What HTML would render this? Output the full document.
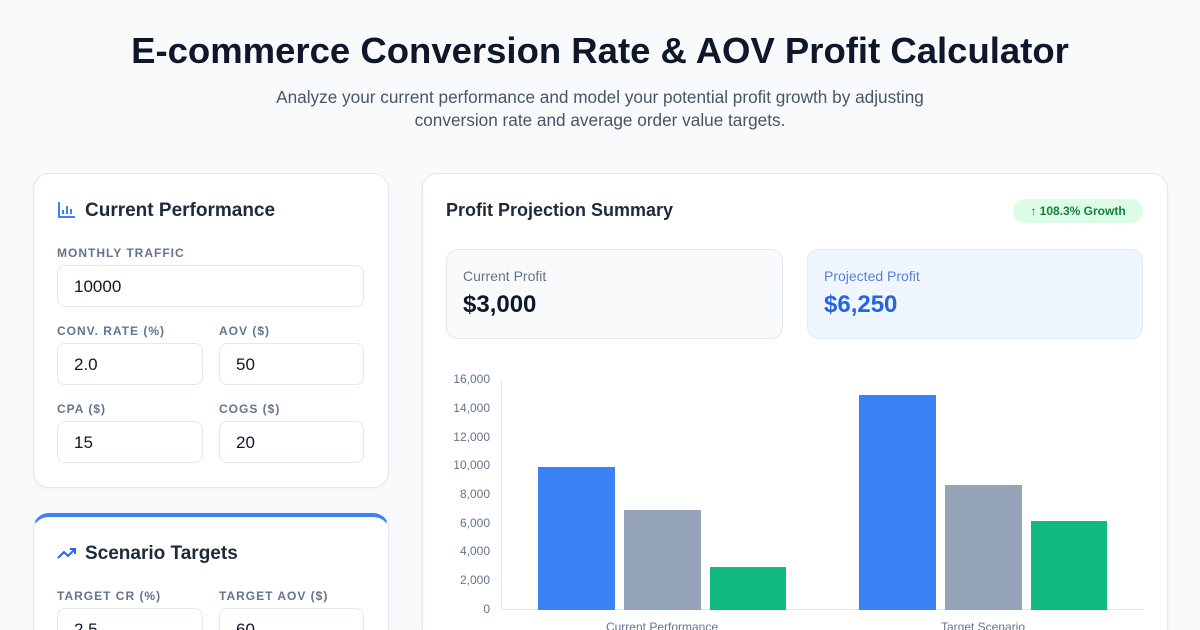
<!DOCTYPE html>
<html style="width:1200px;height:630px;overflow:hidden"><head><style>
*{box-sizing:border-box;margin:0;padding:0}
body{width:1200px;height:630px;overflow:hidden;background:#f8fafc;font-family:"Liberation Sans",sans-serif;position:relative;color:#0f172a}
.a{position:absolute}
.card{position:absolute;background:#fff;border:1px solid #e2e8f0;border-radius:16px;box-shadow:0 1px 3px rgba(0,0,0,.04)}
.lbl{position:absolute;font-size:12px;font-weight:bold;letter-spacing:1px;color:#64748b}
.inp{position:absolute;height:42px;border:1px solid #e2e8f0;border-radius:8px;background:#fff;font-size:17px;padding:11px 16px;color:#0f172a}
.yl{position:absolute;left:440px;width:50px;text-align:right;font-size:12px;color:#64748b}
</style></head><body>
<div class="a" style="left:0;width:1200px;top:30px;text-align:center;font-size:36.5px;font-weight:bold;color:#0f172a">E-commerce Conversion Rate &amp; AOV Profit Calculator</div>
<div class="a" style="left:0;width:1200px;top:86px;text-align:center;font-size:17.2px;line-height:23px;color:#475569">Analyze your current performance and model your potential profit growth by adjusting<br>conversion rate and average order value targets.</div>

<div class="card" style="left:33px;top:173px;width:356px;height:315px"></div>
<svg class="a" style="left:57px;top:201px" width="20" height="18" viewBox="0 0 20 18"><path d="M2 1v15h16M6 13V9M10 13V5M14 13V8" stroke="#3b82f6" stroke-width="2" fill="none"/></svg>
<div class="a" style="left:85px;top:200px;font-size:19px;font-weight:bold;color:#1e293b">Current Performance</div>
<div class="lbl" style="left:57px;top:246px">MONTHLY TRAFFIC</div>
<div class="inp" style="left:57px;top:265px;width:307px">10000</div>
<div class="lbl" style="left:57px;top:324px">CONV. RATE (%)</div>
<div class="lbl" style="left:219px;top:324px">AOV ($)</div>
<div class="inp" style="left:57px;top:343px;width:146px">2.0</div>
<div class="inp" style="left:219px;top:343px;width:145px">50</div>
<div class="lbl" style="left:57px;top:402px">CPA ($)</div>
<div class="lbl" style="left:219px;top:402px">COGS ($)</div>
<div class="inp" style="left:57px;top:421px;width:146px">15</div>
<div class="inp" style="left:219px;top:421px;width:145px">20</div>

<div class="card" style="left:33px;top:513px;width:356px;height:130px;border-top:4px solid #3b82f6"></div>
<svg class="a" style="left:57px;top:546px" width="20" height="14" viewBox="0 0 20 14"><path d="M1 12l6-6 4 4 7-7M13 3h5v5" stroke="#2563eb" stroke-width="2" fill="none"/></svg>
<div class="a" style="left:85px;top:543px;font-size:19px;font-weight:bold;color:#1e293b">Scenario Targets</div>
<div class="lbl" style="left:57px;top:589px">TARGET CR (%)</div>
<div class="lbl" style="left:219px;top:589px">TARGET AOV ($)</div>
<div class="inp" style="left:57px;top:608px;width:146px;height:30px">2.5</div>
<div class="inp" style="left:219px;top:608px;width:145px;height:30px">60</div>

<div class="card" style="left:422px;top:173px;width:746px;height:470px"></div>
<div class="a" style="left:446px;top:200px;font-size:18px;font-weight:bold;color:#1e293b">Profit Projection Summary</div>
<div class="a" style="left:1013px;top:199px;width:130px;height:24px;border-radius:12px;background:#dcfce7;color:#15803d;font-size:12px;font-weight:bold;text-align:center;line-height:24px">↑ 108.3% Growth</div>
<div class="a" style="left:446px;top:249px;width:337px;height:90px;border:1px solid #e2e8f0;border-radius:12px;background:#f8fafc"></div>
<div class="a" style="left:463px;top:268px;font-size:14px;color:#64748b">Current Profit</div>
<div class="a" style="left:463px;top:291px;font-size:24px;font-weight:bold;color:#0f172a">$3,000</div>
<div class="a" style="left:807px;top:249px;width:336px;height:90px;border:1px solid #dbeafe;border-radius:12px;background:#eff6ff"></div>
<div class="a" style="left:824px;top:268px;font-size:14px;color:#5b7fd6">Projected Profit</div>
<div class="a" style="left:824px;top:291px;font-size:24px;font-weight:bold;color:#2563eb">$6,250</div>

<div class="yl" style="top:372px">16,000</div>
<div class="yl" style="top:401px">14,000</div>
<div class="yl" style="top:430px">12,000</div>
<div class="yl" style="top:458px">10,000</div>
<div class="yl" style="top:487px">8,000</div>
<div class="yl" style="top:516px">6,000</div>
<div class="yl" style="top:544px">4,000</div>
<div class="yl" style="top:573px">2,000</div>
<div class="yl" style="top:602px">0</div>
<div class="a" style="left:501px;top:380px;width:1px;height:230px;background:#e5e7eb"></div>
<div class="a" style="left:501px;top:609px;width:642px;height:1px;background:#e5e7eb"></div>
<div class="a" style="left:538px;top:467px;width:77px;height:143px;background:#3b82f6"></div>
<div class="a" style="left:624px;top:510px;width:77px;height:100px;background:#94a3b8"></div>
<div class="a" style="left:710px;top:567px;width:76px;height:43px;background:#10b981"></div>
<div class="a" style="left:859px;top:395px;width:77px;height:215px;background:#3b82f6"></div>
<div class="a" style="left:945px;top:485px;width:77px;height:125px;background:#94a3b8"></div>
<div class="a" style="left:1031px;top:521px;width:76px;height:89px;background:#10b981"></div>
<div class="a" style="left:562px;top:620px;width:200px;text-align:center;font-size:12px;color:#64748b">Current Performance</div>
<div class="a" style="left:883px;top:620px;width:200px;text-align:center;font-size:12px;color:#64748b">Target Scenario</div>
</body></html>
